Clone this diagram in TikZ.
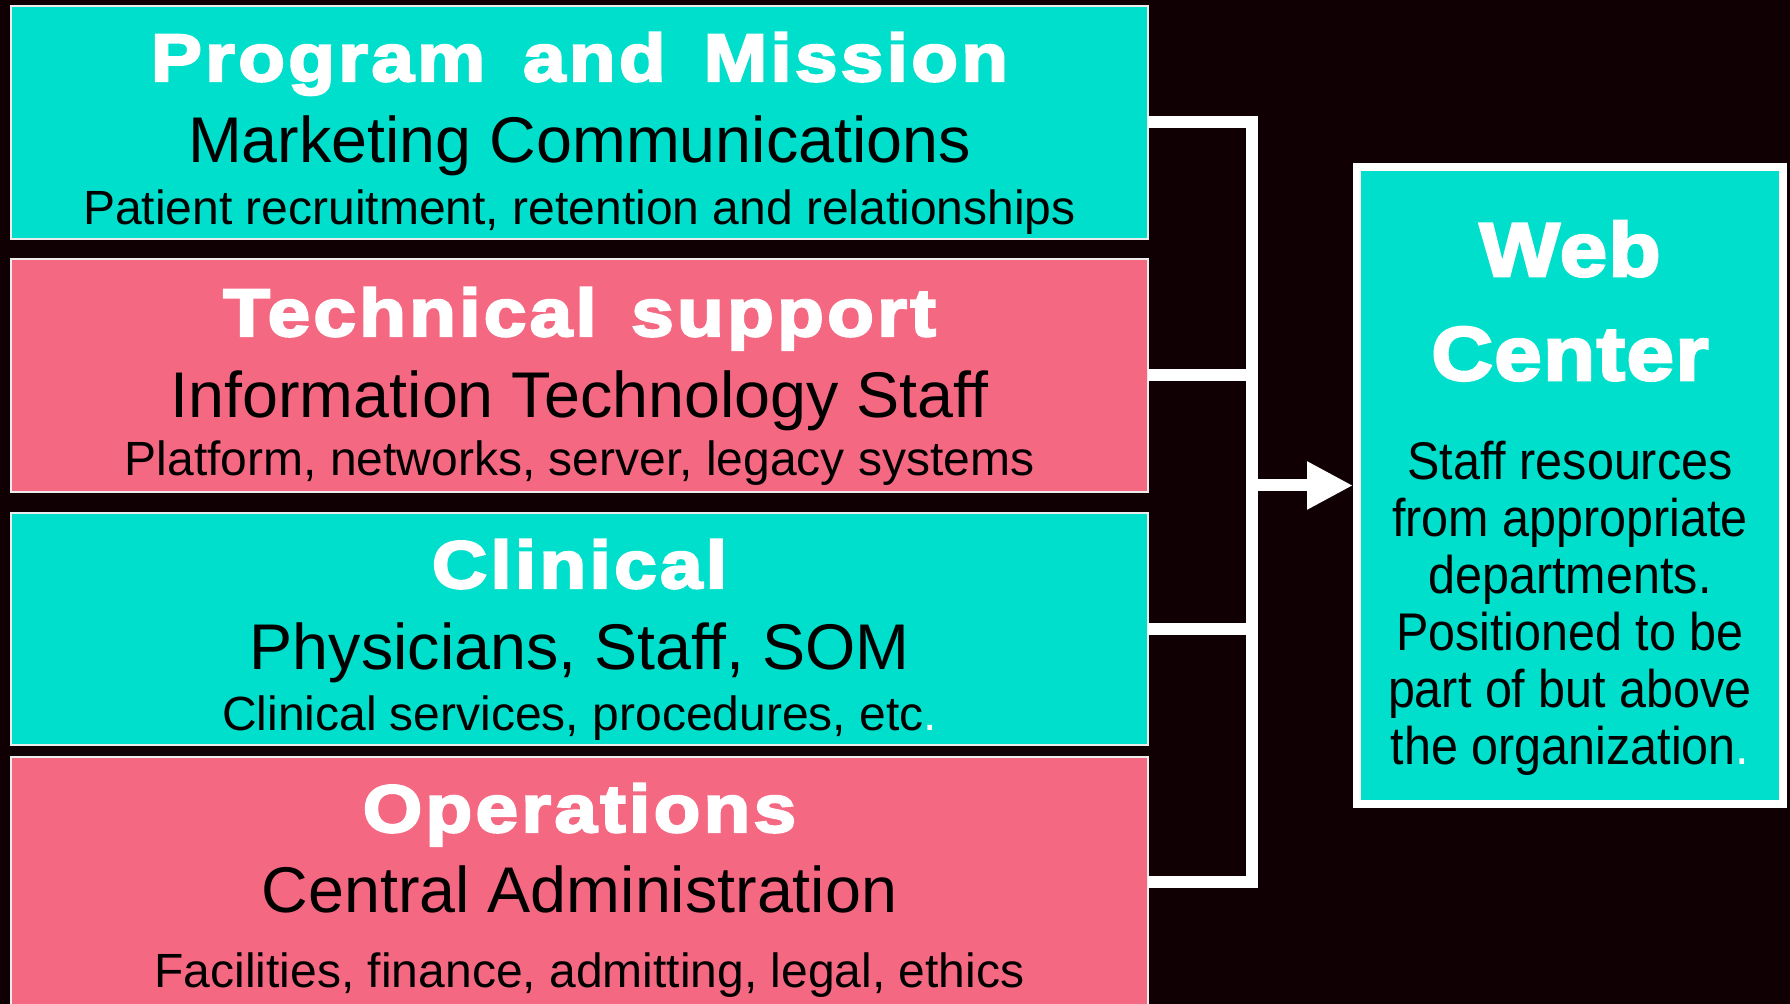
\documentclass[tikz,border=0pt]{standalone}
\usepackage{fontspec}
\setmainfont{Liberation Sans}
\newfontfamily\headfont[FakeBold=3.5,FakeStretch=1.14,LetterSpace=5]{Liberation Sans Bold}
\newfontfamily\bigheadfont[FakeBold=3.5,FakeStretch=1.12,LetterSpace=2]{Liberation Sans Bold}
\newfontfamily\narrowfont[FakeStretch=0.915]{Liberation Sans}
\usetikzlibrary{arrows.meta, positioning}
\definecolor{night}{HTML}{110003}
\definecolor{aqua}{HTML}{00DFCC}
\definecolor{rose}{HTML}{F56882}
\tikzset{
  dept/.style={rectangle, draw=white!85!gray, line width=0.6pt, minimum width=568.5pt, minimum height=116.5pt, inner sep=0pt, outer sep=0pt},
  head/.style={anchor=base, text=white, inner sep=0pt, font=\headfont\fontsize{33.5}{36}\selectfont},
  staff/.style={anchor=base, inner sep=0pt, font=\fontsize{32.3}{36}\selectfont},
  duty/.style={anchor=base, inner sep=0pt, font=\fontsize{24}{26}\selectfont},
  hub/.style={rectangle, draw=white, line width=4pt, fill=aqua, minimum width=213pt, minimum height=318.5pt, inner sep=0pt, outer sep=2pt},
  hubhead/.style={anchor=base, text=white, inner sep=0pt, font=\bigheadfont\fontsize{38}{40}\selectfont},
  hubtext/.style={anchor=base, align=center, inner sep=0pt, font=\narrowfont\fontsize{26.5}{28.5}\selectfont},
  link/.style={white, line width=6pt},
}

\begin{document}
\begin{tikzpicture}
\useasboundingbox (0,0) rectangle (895pt,-502pt);
\fill[night] (0,0) rectangle (895pt,-502pt);

% department boxes, top to bottom
\node[dept, fill=aqua, anchor=north west] (prog) at (5.5pt,-3pt) {};
\node[dept, fill=rose, below=10pt of prog] (tech) {};
\node[dept, fill=aqua, below=10.5pt of tech, minimum height=116pt] (clin) {};
\node[dept, fill=rose, below=6pt of clin, minimum height=125pt] (ops) {};

\node[head] (prog-h) at ([yshift=-37.5pt]prog.north) {Program\hspace{0.2em} and\hspace{0.2em} Mission};
\node[staff] (prog-s) at ([yshift=-78.5pt]prog.north) {Marketing Communications};
\node[duty] (prog-d) at ([yshift=-109.5pt]prog.north) {Patient recruitment, retention and relationships};

\node[head] (tech-h) at ([yshift=-38.5pt]tech.north) {Technical\hspace{0.15em} support};
\node[staff] (tech-s) at ([yshift=-79.5pt]tech.north) {Information Technology Staff};
\node[duty] (tech-d) at ([yshift=-108.5pt]tech.north) {Platform, networks, server, legacy systems};

\node[head] (clin-h) at ([yshift=-37.5pt]clin.north) {Clinical};
\node[staff] (clin-s) at ([yshift=-78.5pt]clin.north) {Physicians, Staff, SOM};
\node[duty] (clin-d) at ([yshift=-109pt]clin.north) {Clinical services, procedures, etc\textcolor{white}{.}};

\node[head] (ops-h) at ([yshift=-37.5pt]ops.north) {Operations};
\node[staff] (ops-s) at ([yshift=-78pt]ops.north) {Central Administration};
\node[duty] (ops-d) at ([xshift=5pt, yshift=-115.5pt]ops.north) {Facilities, finance, admitting, legal, ethics};

% web center
\node[hub, anchor=north west] (web) at (676.5pt,-81.5pt) {};
\node[hubhead] (web-h1) at ([yshift=-56.5pt]web.north) {Web};
\node[hubhead] (web-h2) at ([yshift=-108.5pt]web.north) {Center};
% base of a multi-line node sits on its last line
\node[hubtext] (web-t) at ([yshift=-301pt]web.north) {Staff resources\\from appropriate\\departments.\\Positioned to be\\part of but above\\the organization\textcolor{white}{.}};

% bracket joining the departments
\coordinate (bus) at (626pt,0);
\draw[link] (prog.east) -- (prog.east -| bus) -- (ops.east -| bus) -- (ops.east);
\draw[link] (tech.east) -- (tech.east -| bus);
\draw[link] (clin.east) -- (clin.east -| bus);
\draw[link, -{Triangle[length=23pt, width=22.5pt]}] (web.west -| bus) -- (web.west);
\end{tikzpicture}
\end{document}
